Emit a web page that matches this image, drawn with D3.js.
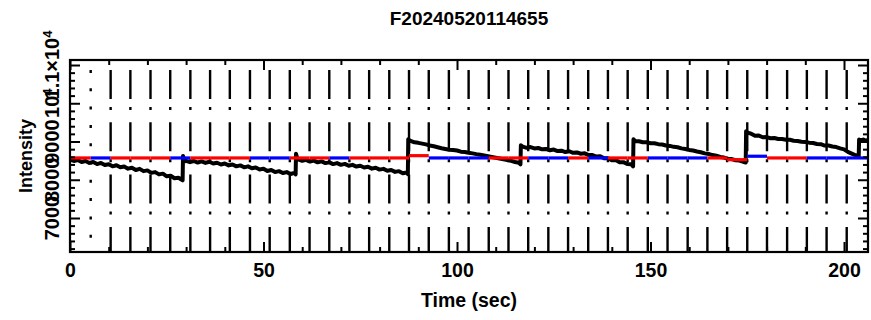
<!DOCTYPE html>
<html><head><meta charset="utf-8">
<script src="https://cdn.jsdelivr.net/npm/d3@7"></script>
<style>
body{margin:0;background:#fff}
text{font-family:"Liberation Sans",Arial,Helvetica,sans-serif;font-weight:bold;fill:#000}
</style>
</head><body>
<svg id="c" width="871" height="320"></svg>
<script>
// ---------- data ----------
const chartTitle = "F20240520114655";
const xTitle = "Time (sec)";
const yTitle = "Intensity";
const xMajorTicks = [0, 50, 100, 150, 200];
const xMinorTicks = [10,20,30,40,60,70,80,90,110,120,130,140,160,170,180,190];
const yMajorTicks = [7000, 8000, 9000, 10000, 11000];
const yMinorTicks = [6200,6400,6600,6800,7200,7400,7600,7800,8200,8400,8600,8800,9200,9400,9600,9800,10200,10400,10600,10800];
const yTickText = [["7000",""],["8000",""],["9000",""],["10","4"],["1.1×10","4"]];
const xDomain = [0, 206.2];
const yDomain = [6111, 11131];

// vertical marker lines (sec)
const dottedMarkers = [5.35];
const dashedMarkers = [10.5,15.6,20.8,25.9,31.1,36.2,41.3,46.5,51.6,56.8,61.9,67.0,72.2,77.3,82.5,87.6,92.7,97.9,103.0,108.2,113.3,118.4,123.6,128.7,133.9,139.0,144.1,149.3,154.4,159.6,164.7,169.8,175.0,180.1,185.3,190.4,195.5,200.7];

// reference step line: interval bounds, colour and level
const stepBounds = [0,5.35,10.5,15.6,20.8,25.9,31.1,36.2,41.3,46.5,51.6,56.8,61.9,67.0,72.2,77.3,82.5,87.6,92.7,97.9,103.0,108.2,113.3,118.4,123.6,128.7,133.9,139.0,144.1,149.3,154.4,159.6,164.7,169.8,175.0,180.1,185.3,190.4,195.5,200.7,206.2];
const stepColor = ["r","b","r","r","r","b","r","r","r","b","b","r","r","b","r","r","r","r","b","b","b","r","r","b","b","r","b","r","r","b","b","b","r","r","b","r","r","b","b","b"];
const stepLevel = [8570,8570,8570,8570,8570,8570,8570,8570,8570,8570,8570,8570,8570,8570,8570,8570,8570,8630,8570,8570,8570,8570,8570,8570,8570,8570,8570,8570,8570,8570,8570,8570,8570,8525,8615,8570,8570,8570,8570,8570];

// measured intensity [time, counts]
const intensity = [
[0,8530],[1,8490],[2,8515],[3,8465],[4,8490],[5,8440],[6,8465],[7,8410],[8,8440],[9,8385],
[10,8405],[11,8350],[12,8380],[13,8325],[14,8345],[15,8290],[16,8315],[17,8255],[18,8285],[19,8225],
[20,8245],[21,8180],[22,8200],[23,8140],[24,8160],[25,8090],[26,8105],[27,8040],[28,8050],[29.1,7985],
[29.2,8620],[29.6,8480],
[30,8495],[31,8460],[32,8490],[33,8450],[34,8480],[35,8440],[36,8470],[37,8425],[38,8445],[39,8400],
[40,8425],[41,8375],[42,8400],[43,8350],[44,8375],[45,8325],[46,8350],[47,8300],[48,8320],[49,8270],
[50,8290],[51,8230],[52,8255],[53,8200],[54,8225],[55,8175],[56,8200],[57,8150],[58,8180],[58.3,8140],
[58.4,8680],[58.8,8530],
[59,8535],[60,8495],[61,8520],[62,8475],[63,8500],[64,8455],[65,8480],[66,8435],[67,8455],[68,8410],
[69,8435],[70,8390],[71,8415],[72,8365],[73,8390],[74,8345],[75,8365],[76,8320],[77,8340],[78,8290],
[79,8315],[80,8265],[81,8285],[82,8235],[83,8255],[84,8205],[85,8225],[86,8170],[87,8190],[87.3,8150],
[87.4,9060],[87.8,9020],
[88,9015],[89,8980],[90,8965],[91,8945],[92,8925],[93,8895],[94,8875],[95,8850],[96,8825],[97,8805],
[98,8785],[99,8780],[100,8765],[101,8735],[102,8725],[103,8705],[104,8690],[105,8670],[106,8655],[107,8635],
[108,8615],[109,8595],[110,8575],[111,8555],[112,8535],[113,8515],[114,8495],[115,8465],[116,8445],[116.4,8405],
[116.5,8900],[116.9,8870],
[117,8865],[118,8835],[119,8855],[120,8820],[121,8830],[122,8795],[123,8805],[124,8770],[125,8790],[126,8750],
[127,8760],[128,8725],[129,8745],[130,8705],[131,8715],[132,8680],[133,8690],[134,8645],[135,8645],[136,8605],
[137,8615],[138,8560],[139,8565],[140,8510],[141,8515],[142,8460],[143,8460],[144,8410],[145,8405],[145.5,8350],
[145.6,9060],[146,9010],
[147,9005],[148,8980],[149,8980],[150,8955],[151,8955],[152,8930],[153,8920],[154,8895],[155,8885],[156,8860],
[157,8850],[158,8820],[159,8805],[160,8780],[161,8765],[162,8740],[163,8720],[164,8690],[165,8675],[166,8645],
[167,8630],[168,8595],[169,8580],[170,8550],[171,8540],[172,8510],[173,8500],[174,8470],[174.6,8450],
[174.7,9270],[175.1,9230],
[176,9205],[177,9150],[178,9155],[179,9110],[180,9115],[181,9085],[182,9090],[183,9065],[184,9065],[185,9045],
[186,9045],[187,9020],[188,9015],[189,8995],[190,8990],[191,8970],[192,8960],[193,8935],[194,8930],[195,8895],
[196,8895],[197,8870],[198,8855],[199,8820],[200,8795],[201,8730],[202,8685],[203,8640],[203.8,8615],
[203.9,9050],[204.5,9025],[205,9050],[205.6,9020],[206.2,9045]
];

// ---------- drawing ----------
const svg = d3.select("#c");
const L = 70, R = 868, T = 60, B = 252;
const x = d3.scaleLinear().domain(xDomain).range([L, R]);
const y = d3.scaleLinear().domain(yDomain).range([B, T]);
const colorOf = {r: "#ff0000", b: "#0000ff"};

svg.append("defs").append("clipPath").attr("id", "clip")
  .append("rect").attr("x", L).attr("y", T).attr("width", R - L).attr("height", B - T);

const plot = svg.append("g").attr("clip-path", "url(#clip)");

// marker lines
plot.selectAll("line.dot").data(dottedMarkers).join("line")
  .attr("x1", d => x(d)).attr("x2", d => x(d)).attr("y1", 70).attr("y2", B)
  .attr("stroke", "#000").attr("stroke-width", 2.4).attr("stroke-dasharray", "3,15.3");
plot.selectAll("line.dash").data(dashedMarkers).join("line")
  .attr("x1", d => x(d)).attr("x2", d => x(d)).attr("y1", 70).attr("y2", B)
  .attr("stroke", "#000").attr("stroke-width", 2.4).attr("stroke-dasharray", "29,8,3,12.3");

// black curve
plot.append("path").datum(intensity)
  .attr("fill", "none").attr("stroke", "#000").attr("stroke-width", 4).attr("stroke-linejoin", "round")
  .attr("d", d3.line().x(d => x(d[0])).y(d => y(d[1])));

// step reference line
plot.selectAll("line.step").data(stepColor).join("line")
  .attr("x1", (d, i) => x(stepBounds[i])).attr("x2", (d, i) => x(stepBounds[i + 1]))
  .attr("y1", (d, i) => y(stepLevel[i])).attr("y2", (d, i) => y(stepLevel[i]))
  .attr("stroke", d => colorOf[d]).attr("stroke-width", 3.2);

// axes (ticks inward)
function ax(gen, tr, vals, size) {
  const g = svg.append("g").attr("transform", tr)
    .call(gen.tickValues(vals).tickSize(size).tickSizeOuter(0).tickFormat(""));
  g.select(".domain").remove();
  g.selectAll("line").attr("stroke", "#000").attr("stroke-width", 2);
}
ax(d3.axisRight(y), `translate(${L},0)`, yMajorTicks, 10);
ax(d3.axisRight(y), `translate(${L},0)`, yMinorTicks, 5);
ax(d3.axisLeft(y), `translate(${R},0)`, yMajorTicks, 10);
ax(d3.axisLeft(y), `translate(${R},0)`, yMinorTicks, 5);
ax(d3.axisBottom(x), `translate(0,${T})`, xMajorTicks, 10);
ax(d3.axisBottom(x), `translate(0,${T})`, xMinorTicks, 5);
ax(d3.axisTop(x), `translate(0,${B})`, xMajorTicks, 10);
ax(d3.axisTop(x), `translate(0,${B})`, xMinorTicks, 5);

// frame
svg.append("rect").attr("x", L).attr("y", T).attr("width", R - L).attr("height", B - T)
  .attr("fill", "none").attr("stroke", "#000").attr("stroke-width", 2.2);

// x tick labels
const xl = svg.append("g").attr("transform", `translate(0,${B})`)
  .call(d3.axisBottom(x).tickValues(xMajorTicks).tickSize(0).tickPadding(11).tickFormat(d3.format("d")));
xl.select(".domain").remove();
xl.selectAll("text").attr("font-size", "19.5px").attr("font-family", null);

// y tick labels (rotated, overlapping as in original)
yMajorTicks.forEach((v, i) => {
  const t = svg.append("text").attr("transform", `translate(59,${y(v)}) rotate(-90)`)
    .attr("text-anchor", "middle").attr("font-size", "20px");
  t.append("tspan").text(yTickText[i][0]);
  if (yTickText[i][1]) t.append("tspan").attr("dy", "-0.55em").attr("font-size", "13px").text(yTickText[i][1]);
});

// titles
svg.append("text").attr("x", (L + R) / 2).attr("y", 25).attr("text-anchor", "middle")
  .attr("font-size", "19px").text(chartTitle);
svg.append("text").attr("x", (L + R) / 2).attr("y", 307).attr("text-anchor", "middle")
  .attr("font-size", "19.5px").text(xTitle);
svg.append("text").attr("transform", `translate(31.5,${(T + B) / 2}) rotate(-90)`).attr("text-anchor", "middle")
  .attr("font-size", "18px").text(yTitle);
</script>
</body></html>
